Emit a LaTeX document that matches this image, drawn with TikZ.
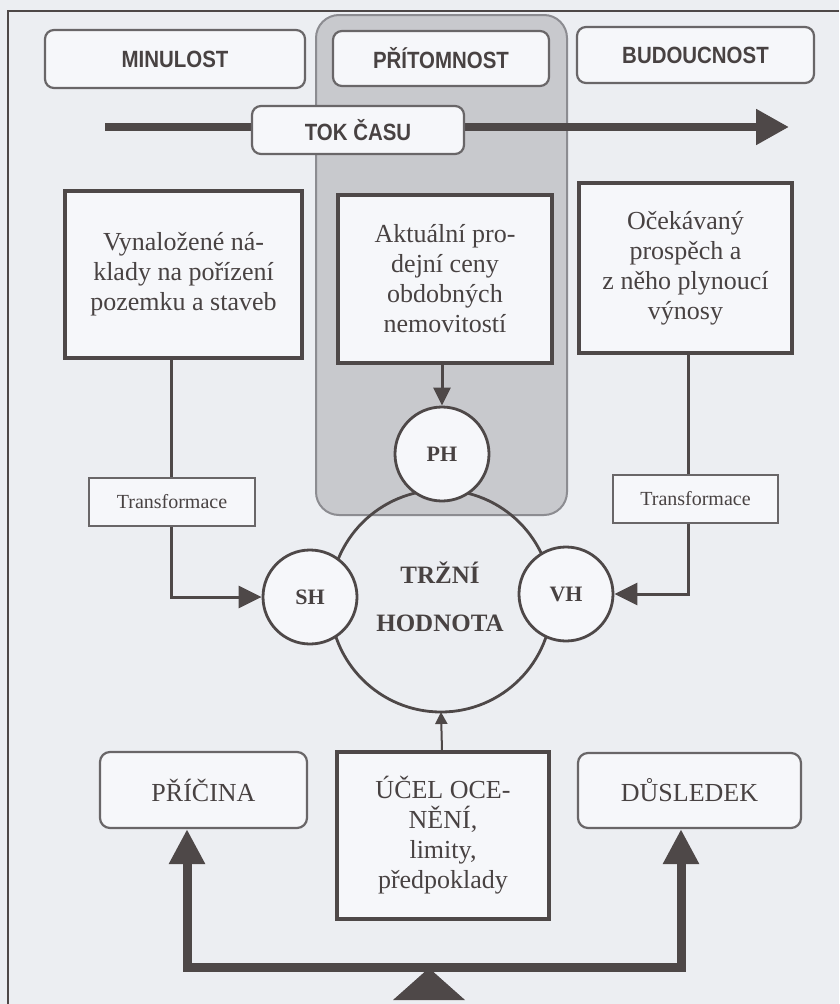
\documentclass[tikz,border=0pt]{standalone}
\usepackage{fontspec}
\setmainfont{Liberation Serif}
\newfontfamily\condsans[FakeStretch=0.87]{Liberation Sans}
\usetikzlibrary{arrows.meta}
\definecolor{bg}{RGB}{236,238,242}
\definecolor{boxfill}{RGB}{246,247,250}
\definecolor{ink}{RGB}{78,72,72}
\definecolor{txt}{RGB}{72,66,66}
\definecolor{lightline}{RGB}{105,102,104}
\definecolor{present}{RGB}{200,201,205}
\definecolor{presentline}{RGB}{140,140,145}
\tikzset{
  toplabel/.style={draw=lightline, line width=2.2pt, rounded corners=9pt, fill=boxfill, inner sep=0pt,
    text=txt, font=\condsans\bfseries\fontsize{23.5}{26}\selectfont},
  sourcebox/.style={draw=ink, line width=3.5pt, fill=boxfill, inner sep=0pt, text=txt, align=center,
    font=\fontsize{26}{30}\selectfont},
  transbox/.style={draw=lightline, line width=2pt, fill=boxfill, inner sep=0pt, text=txt,
    font=\fontsize{20}{22}\selectfont},
  bottombox/.style={draw=lightline, line width=2.2pt, rounded corners=10pt, fill=boxfill, inner sep=0pt,
    text=txt, font=\fontsize{26}{30}\selectfont},
  valcircle/.style={circle, draw=ink, line width=2.8pt, fill=boxfill, inner sep=0pt, minimum size=94pt,
    text=txt, font=\bfseries\fontsize{22}{24}\selectfont},
  conn/.style={draw=ink, line width=3pt},
  thickconn/.style={draw=ink, line width=9pt},
}
\begin{document}
\begin{tikzpicture}[x=1pt,y=-1pt]
\fill[bg] (0,0) rectangle (839,1004);
\useasboundingbox (0,0) rectangle (839,1004);
% frame
\draw[ink, line width=2pt] (8,1004) -- (8,11) -- (839,11);
% present column
\draw[presentline, fill=present, line width=2pt, rounded corners=23pt] (316,15) rectangle (567,515);
% top labels
\node[toplabel, minimum width=260pt, minimum height=58pt] (minulost) at (175,59) {MINULOST};
\node[toplabel, minimum width=216pt, minimum height=55pt] (pritomnost) at (441,58.5) {PŘÍTOMNOST};
\node[toplabel, minimum width=237pt, minimum height=56pt] (budoucnost) at (695.5,55) {BUDOUCNOST};
% time arrow
\coordinate (tstart) at (105,127);
\coordinate (tend) at (789,127);
\draw[draw=ink, line width=8pt, -{Triangle[length=33pt, width=34pt]}] (tstart) -- (tend);
\node[toplabel, minimum width=212pt, minimum height=48pt] (tok) at (358,130) {TOK ČASU};
% source boxes
\node[sourcebox, minimum width=237pt, minimum height=167pt] (naklady) at (183.5,274.5)
  {Vynaložené ná-\\klady na pořízení\\pozemku a staveb};
\node[sourcebox, minimum width=214pt, minimum height=168pt] (ceny) at (445,279)
  {Aktuální pro-\\dejní ceny\\obdobných\\nemovitostí};
\node[sourcebox, minimum width=213pt, minimum height=170pt] (prospech) at (685.5,268)
  {Očekávaný\\prospěch a\\z něho plynoucí\\výnosy};
% transformations
\node[transbox, minimum width=166pt, minimum height=48pt] (transL) at (172,502) {Transformace};
\node[transbox, minimum width=165pt, minimum height=48pt] (transR) at (695.5,499) {Transformace};
% market value circles
\draw[ink, line width=2.8pt] (441,601) circle (111pt);
\node[valcircle] (PH) at (442,454) {PH};
\node[valcircle] (SH) at (310,597) {SH};
\node[valcircle] (VH) at (566,594) {VH};
\node[text=txt, align=center, font=\bfseries\fontsize{25}{48}\selectfont] (tlabel) at (440,597) {TRŽNÍ\\HODNOTA};
% connectors
\coordinate (xl) at (171,0);
\coordinate (xm) at (442,0);
\coordinate (xr) at (688,0);
\draw[conn] (naklady.south -| xl) -- (transL.north -| xl);
\draw[conn, -{Triangle[length=23pt, width=22pt]}] (transL.south -| xl) |- (SH.west);
\draw[conn] (prospech.south -| xr) -- (transR.north -| xr);
\draw[conn, -{Triangle[length=23pt, width=22pt]}] (transR.south -| xr) |- (VH.east);
\draw[conn, -{Triangle[length=18pt, width=17pt]}] (ceny.south -| xm) -- (PH.north);
% bottom row
\node[bottombox, minimum width=207pt, minimum height=76pt] (pricina) at (203.5,790) {PŘÍČINA};
\node[sourcebox, minimum width=212pt, minimum height=167pt] (ucel) at (443,835.5)
  {ÚČEL OCE-\\NĚNÍ,\\limity,\\předpoklady};
\node[bottombox, minimum width=223pt, minimum height=75pt] (dusledek) at (689.5,790.5) {DŮSLEDEK};
\coordinate (circbottom) at (441,712);
\draw[draw=ink, line width=2pt, -{Triangle[length=12pt, width=12pt]}] (ucel.north -| xm) -- (circbottom);
\coordinate (bl) at (187,967);
\coordinate (br) at (681,967);
\draw[thickconn, line cap=rect] (bl) -- (br);
\draw[thickconn, -{Triangle[length=35pt, width=34pt]}] (bl) -- (bl |- pricina.south);
\draw[thickconn, -{Triangle[length=35pt, width=34pt]}] (br) -- (br |- dusledek.south);
\coordinate (apex) at (429,968);
\fill[ink] (apex) -- (465,1000) -- (393,1000) -- cycle;
\end{tikzpicture}
\end{document}
